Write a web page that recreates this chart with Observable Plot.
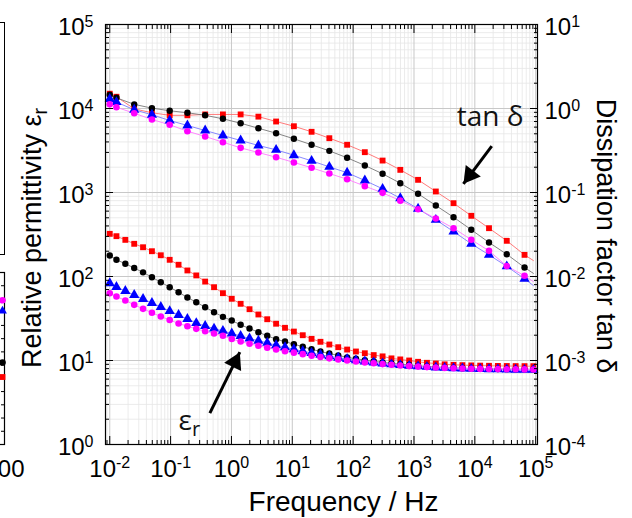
<!DOCTYPE html>
<html><head><meta charset="utf-8">
<script src="https://cdn.jsdelivr.net/npm/d3@7"></script>
<script src="https://cdn.jsdelivr.net/npm/@observablehq/plot@0.6"></script>
<style>
html,body{margin:0;padding:0;background:#fff;overflow:hidden;}
#wrap{position:relative;width:632px;height:518px;overflow:hidden;background:#fff;}
#main{position:absolute;left:0;top:0;}
#frag{position:absolute;top:0;left:-136px;}
#legendbox{position:absolute;left:-10px;top:22px;width:13px;height:231px;border:1px solid #000;}
</style></head><body>
<div id="wrap"><div id="legendbox"></div><div id="frag"></div><div id="main"></div></div>
<script>
// ---------- data ----------
const freq = [0.01, 0.01288, 0.01803, 0.02523, 0.03524, 0.04932, 0.06902, 0.09661, 0.1352, 0.1888,
  0.2642, 0.3698, 0.5176, 0.7244, 1.012, 1.416, 1.982, 2.773, 3.873, 5.420,
  7.586, 10.62, 14.86, 20.75, 29.04, 40.64, 56.89, 79.62, 111.2, 155.6,
  217.8, 304.8, 426.6, 595.7, 833.7, 1167, 1633, 2286, 3192, 4467,
  6252, 8750, 12246, 17100, 23930, 33500, 46880, 65610, 91620];

const epsRed = [322, 302, 273, 245, 223, 200, 179, 158, 138, 118,
  103, 87, 74.6, 63.3, 54.3, 47.3, 40.8, 35.3, 31.0, 27.4,
  24.5, 22.1, 20.0, 18.1, 16.7, 15.5, 14.4, 13.5, 12.8, 12.2,
  11.6, 11.2, 10.6, 10.3, 10.0, 9.65, 9.39, 9.21, 9.0, 8.88,
  8.80, 8.74, 8.69, 8.65, 8.62, 8.60, 8.58, 8.57, 8.56];
const epsBlack = [178, 158, 142, 126, 112, 98, 85.5, 74.6, 65, 56.2,
  49.4, 43.1, 37.6, 33.1, 29.9, 26.6, 24.0, 21.7, 19.7, 17.9,
  16.8, 15.6, 14.6, 13.6, 12.8, 12.1, 11.5, 10.9, 10.5, 10.1,
  9.8, 9.5, 9.25, 9.05, 8.85, 8.65, 8.5, 8.38, 8.27, 8.18,
  8.1, 8.04, 7.98, 7.94, 7.91, 7.89, 7.87, 7.85, 7.84];
const epsBlue = [83.2, 75.0, 67.2, 60.2, 54.0, 48.4, 43.4, 38.8, 34.8, 31.2,
  27.9, 25.8, 24.0, 22.5, 21.0, 19.6, 18.3, 17.2, 16.2, 15.2,
  14.4, 13.6, 12.9, 12.3, 11.7, 11.2, 10.8, 10.4, 10.05, 9.73,
  9.46, 9.23, 9.01, 8.82, 8.65, 8.51, 8.39, 8.27, 8.18, 8.09,
  8.03, 7.96, 7.92, 7.88, 7.84, 7.79, 7.77, 7.75, 7.73];
const epsMagenta = [63.3, 57.8, 51.8, 46.0, 41.2, 37.0, 33.4, 30.4, 27.6, 25.6,
  23.8, 22.3, 21.0, 19.7, 18.0, 16.8, 15.8, 15.0, 14.2, 13.5,
  12.9, 12.4, 11.9, 11.4, 11.0, 10.6, 10.3, 10.0, 9.73, 9.46,
  9.26, 9.06, 8.89, 8.72, 8.58, 8.46, 8.35, 8.25, 8.16, 8.09,
  8.03, 7.98, 7.94, 7.92, 7.90, 7.88, 7.86, 7.84, 7.81];

const tanFreq = [0.01, 0.01288, 0.02523, 0.04932, 0.09661, 0.1888, 0.3698, 0.7244, 1.416, 2.773,
  5.420, 10.62, 20.75, 40.64, 79.62, 155.6, 304.8, 595.7, 1167, 2286,
  4467, 8750, 17100, 33500, 65610, 91620];
const tanRed = [1.50, 1.38, 0.99, 0.89, 0.83, 0.83, 0.85, 0.85, 0.85, 0.80,
  0.70, 0.615, 0.528, 0.443, 0.370, 0.302, 0.240, 0.186, 0.1415, 0.1028,
  0.0746, 0.0528, 0.0376, 0.0266, 0.0181, 0.0155];
const tanBlack = [1.46, 1.34, 1.12, 1.01, 0.94, 0.89, 0.83, 0.754, 0.668, 0.582,
  0.508, 0.436, 0.370, 0.313, 0.259, 0.210, 0.167, 0.129, 0.0966, 0.070,
  0.0508, 0.036, 0.0254, 0.0184, 0.0128, 0.0109];
const tanBlue = [1.30, 1.19, 0.966, 0.842, 0.72, 0.628, 0.547, 0.477, 0.416, 0.363,
  0.322, 0.278, 0.238, 0.202, 0.172, 0.139, 0.1107, 0.0855, 0.064, 0.0473,
  0.0343, 0.0245, 0.0181, 0.0132, 0.0094, 0.0078];
const tanMagenta = [1.12, 1.035, 0.879, 0.74, 0.64, 0.537, 0.464, 0.397, 0.340, 0.299,
  0.263, 0.228, 0.197, 0.168, 0.144, 0.119, 0.099, 0.080, 0.0633, 0.049,
  0.0376, 0.0274, 0.0202, 0.0133, 0.0102, 0.0087];

const xMajor = [1e-2, 1e-1, 1e0, 1e1, 1e2, 1e3, 1e4, 1e5];
const yMajor = [1e0, 1e1, 1e2, 1e3, 1e4, 1e5];          // left axis (εr)
const tanOffset = 1e4;                                  // right axis: tan δ = left / 1e4
const minorMult = [2, 3, 4, 5, 6, 7, 8, 9];

const xTitle = "Frequency / Hz";
const yLeftTitle = "Relative permittivity ε_r";
const yRightTitle = "Dissipation factor tan δ";

// annotation anchors (data coordinates)
const labelTan = {x: 5035, y: 7816, text: "tan δ"};
const labelEps = {x: 0.135, y: 1.89, text: "ε_r"};
const arrowTan = {x1: 18970, y1: 3558, x2: 6490, y2: 1270};
const arrowEps = {x1: 0.4416, y1: 2.36, x2: 1.374, y2: 12.56};

// left-hand fragment of the neighbouring panel
const fragTicks = [100];
const fragPoints = [
  {x: 99, y: 10.9, k: "magenta"}, {x: 99, y: 10.1, k: "blue"},
  {x: 99, y: 6.2, k: "black"}, {x: 99, y: 5.1, k: "red"}];

// ---------- styles ----------
const styles = {
  red: {color: "#ff0000", line: "#ff6b6b", symbol: "square", r: 3.3},
  black: {color: "#000000", line: "#777777", symbol: "circle", r: 3.2},
  blue: {color: "#0000ff", line: "#7a7aff", symbol: "triangle", r: 3.8},
  magenta: {color: "#ff00ff", line: "#ff7aff", symbol: "circle", r: 3.3}
};
const seriesList = [
  {k: "red", eps: epsRed, tan: tanRed},
  {k: "black", eps: epsBlack, tan: tanBlack},
  {k: "blue", eps: epsBlue, tan: tanBlue},
  {k: "magenta", eps: epsMagenta, tan: tanMagenta}
];

const xMinor = [xMajor[0] * 0.9, ...xMajor.slice(0, -1).flatMap(d => minorMult.map(m => m * d))];
const yMinor = yMajor.slice(0, -1).flatMap(d => minorMult.map(m => m * d));
const fmtPow = d => "10^" + Math.round(Math.log10(d));
const blank = () => "";

const seriesMarks = [];
for (const s of seriesList) {
  const st = styles[s.k];
  const eRows = freq.map((f, i) => ({f, v: s.eps[i]}));
  const tRows = tanFreq.map((f, i) => ({f, v: s.tan[i] * tanOffset}));
  seriesMarks.push(
    Plot.line(eRows, {x: "f", y: "v", stroke: st.line, strokeWidth: 0.9}),
    Plot.line(tRows, {x: "f", y: "v", stroke: st.line, strokeWidth: 0.9})
  );
}
for (const s of seriesList) {
  const st = styles[s.k];
  const eRows = freq.map((f, i) => ({f, v: s.eps[i]}));
  const tRows = tanFreq.map((f, i) => ({f, v: s.tan[i] * tanOffset})).slice(0, -1);
  seriesMarks.push(
    Plot.dot(eRows, {x: "f", y: "v", symbol: st.symbol, r: st.r, fill: st.color, stroke: "none"}),
    Plot.dot(tRows, {x: "f", y: "v", symbol: st.symbol, r: st.r, fill: st.color, stroke: "none"})
  );
}

const FONT = "'Liberation Sans', Arial, Helvetica, sans-serif";
const ANNOT = "'Open Sans', 'Noto Sans', sans-serif";
const noLab = {label: null};

const chart = Plot.plot({
  width: 632, height: 518,
  marginLeft: 105, marginRight: 95, marginTop: 24, marginBottom: 74,
  x: {type: "log", domain: [10 ** -2.07, 10 ** 5.03], axis: null, label: null},
  y: {type: "log", domain: [1, 1e5], axis: null, label: null},
  style: {fontFamily: FONT, fontSize: "24px", color: "black", background: "transparent", overflow: "visible"},
  marks: [
    Plot.gridX(xMinor, {stroke: "#e6e6e6", strokeOpacity: 1, strokeWidth: 0.8}),
    Plot.gridY(yMinor, {stroke: "#e6e6e6", strokeOpacity: 1, strokeWidth: 0.8}),
    Plot.gridX(xMajor, {stroke: "#c8c8c8", strokeOpacity: 1, strokeWidth: 1}),
    Plot.gridY(yMajor, {stroke: "#c8c8c8", strokeOpacity: 1, strokeWidth: 1}),
    ...seriesMarks,
    Plot.frame({stroke: "black", strokeWidth: 1.2}),
    // inward ticks on all four sides
    Plot.axisX(xMajor, {...noLab, anchor: "bottom", tickSize: -8, tickFormat: blank}),
    Plot.axisX(xMinor, {...noLab, anchor: "bottom", tickSize: -4, tickFormat: blank}),
    Plot.axisX(xMajor, {...noLab, anchor: "top", tickSize: -8, tickFormat: blank}),
    Plot.axisX(xMinor, {...noLab, anchor: "top", tickSize: -4, tickFormat: blank}),
    Plot.axisY(yMajor, {...noLab, anchor: "left", tickSize: -8, tickFormat: blank}),
    Plot.axisY(yMinor, {...noLab, anchor: "left", tickSize: -4, tickFormat: blank}),
    Plot.axisY(yMajor, {...noLab, anchor: "right", tickSize: -8, tickFormat: blank}),
    Plot.axisY(yMinor, {...noLab, anchor: "right", tickSize: -4, tickFormat: blank}),
    // tick labels
    Plot.axisX(xMajor, {...noLab, anchor: "bottom", tickSize: 0, tickPadding: 15, tickFormat: fmtPow, fontSize: 24}),
    Plot.axisY(yMajor, {...noLab, anchor: "left", tickSize: 0, tickPadding: 12, tickFormat: fmtPow, fontSize: 24, dy: 3}),
    Plot.axisY(yMajor, {...noLab, anchor: "right", tickSize: 0, tickPadding: 7, tickFormat: d => fmtPow(d / tanOffset), fontSize: 24, dy: 3}),
    // annotations
    Plot.text([labelTan], {x: "x", y: "y", text: "text", textAnchor: "start", fontFamily: ANNOT, fontSize: 28, fill: "#111"}),
    Plot.text([labelEps], {x: "x", y: "y", text: "text", textAnchor: "start", fontFamily: ANNOT, fontSize: 28, fill: "#111"}),
    Plot.link([arrowTan, arrowEps], {x1: "x1", y1: "y1", x2: "x2", y2: "y2", stroke: "black", strokeWidth: 3}),
    Plot.dot([arrowTan], {x: "x2", y: "y2", symbol: "triangle", r: 7, fill: "black", rotate: 217, dx: 6.6, dy: -8.7}),
    Plot.dot([arrowEps], {x: "x2", y: "y2", symbol: "triangle", r: 7, fill: "black", rotate: 26, dx: -4.8, dy: 9.8})
  ]
});

// rich text: superscripts "^" and subscripts "_"
function richText(svg) {
  d3.select(svg).selectAll("text").each(function () {
    const el = d3.select(this);
    if (this.querySelector("tspan")) return;
    const t = this.textContent;
    let m = t.match(/^(.*?)\^(.+)$/);
    if (m) {
      el.text(m[1]);
      el.append("tspan").attr("dy", "-8.5").attr("font-size", "16px").text(m[2]);
      return;
    }
    m = t.match(/^(.*?)_(.+)$/);
    if (m) {
      el.text(m[1]);
      el.append("tspan").attr("dy", "6").attr("font-size", "0.72em").text(m[2]);
    }
  });
}

// axis titles
const svg = d3.select(chart);
svg.append("text").attr("x", 343.5).attr("y", 511).attr("text-anchor", "middle")
  .attr("font-family", FONT).attr("font-size", 28).attr("fill", "black").text(xTitle);
svg.append("text").attr("transform", "translate(41,238) rotate(-90)").attr("text-anchor", "middle")
  .attr("font-family", FONT).attr("font-size", 27).attr("fill", "black").text(yLeftTitle);
svg.append("text").attr("transform", "translate(597,236) rotate(90)").attr("text-anchor", "middle")
  .attr("font-family", FONT).attr("font-size", 27).attr("fill", "black").text(yRightTitle);
richText(chart);
document.getElementById("main").appendChild(chart);

// fragment of neighbouring panel (left edge)
const frag = Plot.plot({
  width: 200, height: 518,
  marginLeft: 0, marginRight: 60, marginTop: 272, marginBottom: 74,
  x: {domain: [30, 100], axis: null, label: null},
  y: {domain: [0, 13], axis: null, label: null},
  style: {fontFamily: FONT, fontSize: "24px", color: "black", background: "transparent", overflow: "visible"},
  marks: [
    Plot.frame({stroke: "black", strokeWidth: 1.2}),
    Plot.axisY(d3.range(0, 14), {...noLab, anchor: "right", tickSize: -4, tickFormat: blank}),
    Plot.axisX(fragTicks, {...noLab, anchor: "bottom", tickSize: 0, tickPadding: 15, fontSize: 24}),
    Plot.dot(fragPoints, {x: "x", y: "y", symbol: d => styles[d.k].symbol, r: 3.3, fill: d => styles[d.k].color})
  ]
});
document.getElementById("frag").appendChild(frag);
</script>
</body></html>
